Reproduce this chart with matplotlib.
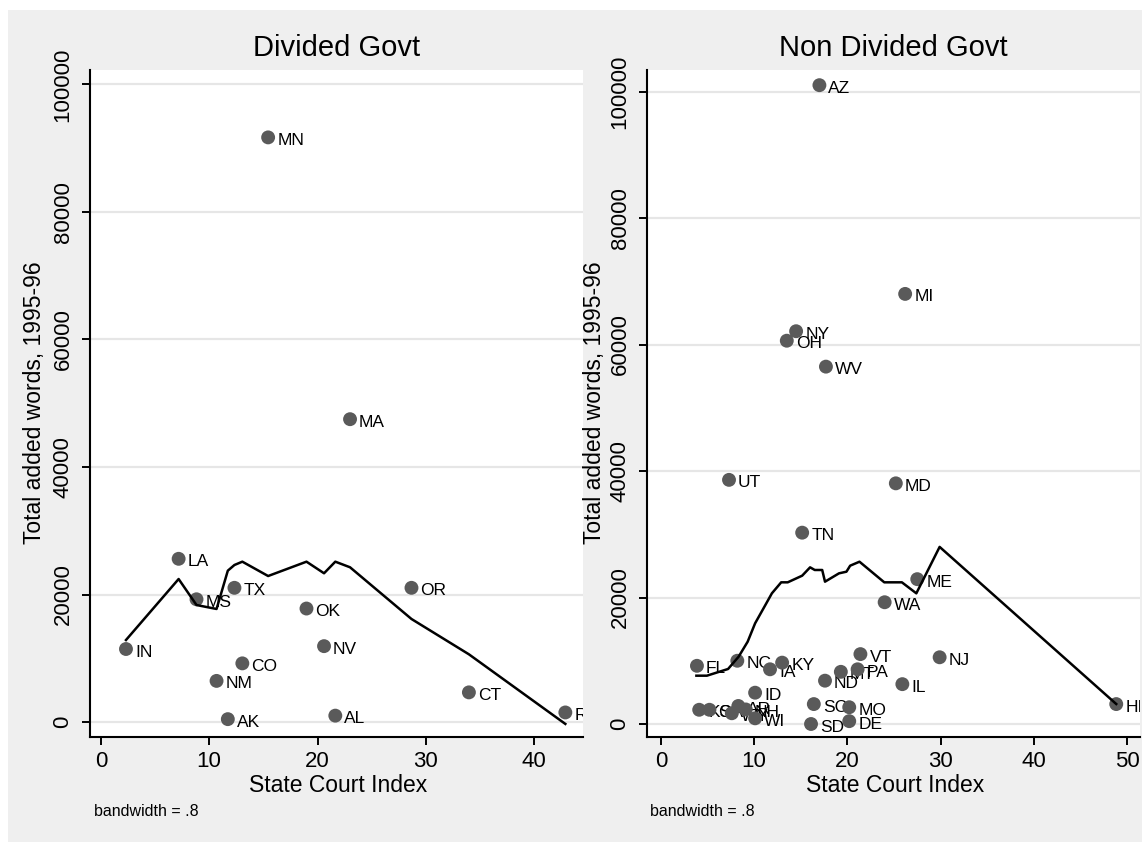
import numpy as np
import matplotlib
matplotlib.use('Agg')
from matplotlib import pyplot as plt
from matplotlib.patches import Rectangle

plt.rcParams['font.family'] = ['Liberation Sans', 'DejaVu Sans']

# Divided government states
div_state = ['MN', 'MA', 'LA', 'MS', 'TX', 'OR', 'OK', 'IN', 'NV', 'CO', 'NM', 'CT', 'AK', 'AL', 'RI']
div_sci = [15.44, 23.0, 7.18, 8.83, 12.33, 28.67, 18.98, 2.32, 20.6, 13.06, 10.68, 33.97, 11.72, 21.64, 42.87]
div_words = [91700, 47500, 25600, 19250, 21050, 21050, 17800, 11450, 11900, 9200, 6450, 4650, 450, 1000, 1500]

# lowess fit, divided
div_fit_x = [2.32, 7.18, 8.83, 10.68, 11.72, 12.33, 13.06, 15.44, 18.98, 20.6, 21.64, 23.0, 28.67, 33.97, 42.87]
div_fit_y = [12860, 22430, 18350, 17730, 23740, 24630, 25150, 22900, 25150, 23330, 25150, 24270, 16160, 10620, -300]

# Non divided government states
nd_state = ['AZ', 'MI', 'NY', 'OH', 'WV', 'UT', 'MD', 'TN', 'ME', 'WA', 'FL', 'NC', 'IA', 'KY',
            'VT', 'NJ', 'ND', 'MT', 'PA', 'IL', 'ID', 'SC', 'MO', 'DE', 'SD', 'WI', 'KS', 'GA',
            'WY', 'AR', 'NH', 'HI']
nd_sci = [17.0, 26.2, 14.5, 13.5, 17.7, 7.3, 25.2, 15.15, 27.5, 24.0, 3.86, 8.19, 11.7, 13.0,
          21.4, 29.9, 17.6, 19.3, 21.1, 25.9, 10.1, 16.4, 20.2, 20.2, 16.1, 10.1, 4.1, 5.2,
          7.6, 8.3, 9.1, 48.85]
nd_words = [101000, 68000, 62100, 60600, 56500, 38600, 38050, 30250, 22900, 19250, 9200, 10000, 8650, 9700,
            11050, 10550, 6850, 8250, 8650, 6300, 4950, 3150, 2650, 450, 0, 900, 2250, 2250,
            1700, 2850, 2300, 3150]

# lowess fit, non divided
nd_fit_x = [3.8, 4.93, 7.2, 8.33, 9.3, 10.1, 11.2, 11.9, 12.9, 13.6, 15.15, 16.0, 16.5, 17.3,
            17.6, 19.1, 19.9, 20.3, 21.3, 23.96, 25.85, 27.4, 29.9, 48.85]
nd_fit_y = [7640, 7640, 8700, 10640, 13010, 15920, 18810, 20660, 22400, 22400, 23450, 24770, 24350, 24350,
            22500, 23820, 24080, 25030, 25660, 22400, 22400, 20660, 28000, 3160]

yticks = [0, 20000, 40000, 60000, 80000, 100000]

W, H = 1148, 842
fig = plt.figure(figsize=(W / 100, H / 100), dpi=100)
fig.patch.set_facecolor('white')
bg = Rectangle((8 / W, 0), (1142 - 8) / W, 1 - 10 / H, transform=fig.transFigure,
               facecolor='#efefef', edgecolor='none', zorder=-10)
fig.add_artist(bg)


def box(x0, y0, x1, y1):
    return [x0 / W, 1 - y1 / H, (x1 - x0) / W, (y1 - y0) / H]


def panel(rect, xs, ys, names, fx, fy, xlim, ylim, xticks):
    ax = fig.add_axes(rect)
    ax.set_facecolor('white')
    for yy in yticks:
        ax.axhline(yy, color='#e6e6e6', lw=1.6, zorder=1)
    for x, y, s in zip(xs, ys, names):
        t = ax.annotate(s, (x, y), xytext=(6.5, -2.2), textcoords='offset points',
                        ha='left', va='center', fontsize=12.5, zorder=2)
        t.set_clip_on(True)
        t.set_clip_box(ax.bbox)
    ax.scatter(xs, ys, s=100, color='#5a5a5a', edgecolors='none', zorder=3, clip_on=False)
    ax.plot(fx, fy, color='black', lw=1.8, zorder=4)
    ax.set_xlim(*xlim)
    ax.set_ylim(*ylim)
    ax.set_xticks(xticks)
    ax.set_yticks(yticks)
    ax.set_yticklabels([str(v) for v in yticks], rotation=90, va='center')
    for side in ['top', 'right']:
        ax.spines[side].set_visible(False)
    for side in ['left', 'bottom']:
        ax.spines[side].set_linewidth(1.5)
    ax.tick_params(axis='both', length=5.8, width=1.4, labelsize=16, direction='out')
    ax.tick_params(axis='y', pad=6)
    ax.tick_params(axis='x', pad=4)
    return ax


panel(box(90, 70, 583, 737), div_sci, div_words, div_state, div_fit_x, div_fit_y,
      (-1.0, 44.5), (-2350, 102270), [0, 10, 20, 30, 40])
panel(box(647, 70, 1140, 737), nd_sci, nd_words, nd_state, nd_fit_x, nd_fit_y,
      (-1.5, 51.4), (-2055, 103400), [0, 10, 20, 30, 40, 50])

for cx, title in [(337, 'Divided Govt'), (893, 'Non Divided Govt')]:
    fig.text(cx / W, 1 - 48 / H, title, ha='center', va='center', fontsize=21)
for cx in [338, 895]:
    fig.text(cx / W, 1 - 785 / H, 'State Court Index', ha='center', va='center', fontsize=16.5)
for lx in [94, 650]:
    fig.text(lx / W, 1 - 811 / H, 'bandwidth = .8', ha='left', va='center', fontsize=11.5)
for cx in [35, 595]:
    fig.text(cx / W, 1 - 403 / H, 'Total added words, 1995-96', ha='center', va='center',
             rotation=90, fontsize=16.5)

fig.savefig('out.png', dpi=100)
